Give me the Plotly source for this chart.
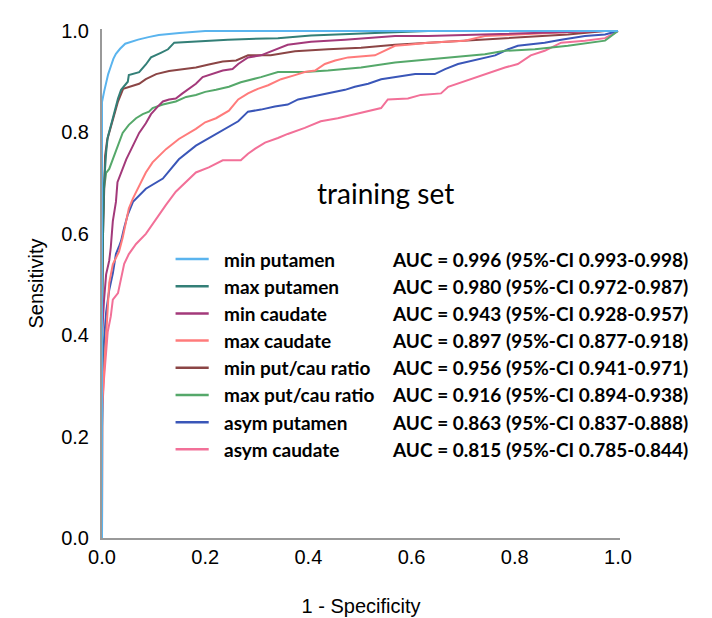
import plotly.graph_objects as go

# ---- data ----
series_names = ["min putamen", "max putamen", "min caudate", "max caudate",
                "min put/cau ratio", "max put/cau ratio", "asym putamen", "asym caudate"]
auc_labels = ["AUC = 0.996 (95%-CI 0.993-0.998)", "AUC = 0.980 (95%-CI 0.972-0.987)",
              "AUC = 0.943 (95%-CI 0.928-0.957)", "AUC = 0.897 (95%-CI 0.877-0.918)",
              "AUC = 0.956 (95%-CI 0.941-0.971)", "AUC = 0.916 (95%-CI 0.894-0.938)",
              "AUC = 0.863 (95%-CI 0.837-0.888)", "AUC = 0.815 (95%-CI 0.785-0.844)"]
colors = ["#5AB4EE", "#337F77", "#A3397A", "#FF7B7B", "#8B4545", "#55A86A", "#3A56B8", "#F27098"]

min_putamen_fpr = [0, 0, 0.004, 0.008, 0.012, 0.017, 0.022, 0.027, 0.035, 0.045, 0.06, 0.07, 0.09, 0.11, 0.15, 0.2, 1]
min_putamen_tpr = [0, 0.86, 0.88, 0.90, 0.915, 0.93, 0.945, 0.955, 0.965, 0.975, 0.98, 0.983, 0.988, 0.992, 0.996, 1.0, 1]

max_putamen_fpr = [0, 0, 0.002, 0.004, 0.008, 0.011, 0.021, 0.031, 0.037, 0.05, 0.052, 0.072, 0.085, 0.095, 0.114,
                   0.128, 0.14, 0.157, 0.2, 0.244, 0.341, 0.405, 0.529, 0.632, 1]
max_putamen_tpr = [0, 0.45, 0.6, 0.7, 0.76, 0.79, 0.828, 0.867, 0.884, 0.9, 0.913, 0.919, 0.934, 0.948, 0.957,
                   0.964, 0.977, 0.978, 0.98, 0.983, 0.986, 0.991, 0.996, 1.0, 1]

min_caudate_fpr = [0, 0, 0.004, 0.008, 0.014, 0.017, 0.021, 0.027, 0.03, 0.04, 0.047, 0.06, 0.072, 0.085, 0.095,
                   0.108, 0.118, 0.13, 0.143, 0.156, 0.169, 0.182, 0.195, 0.215, 0.234, 0.253, 0.264, 0.283, 0.308,
                   0.36, 0.405, 0.471, 0.516, 0.568, 0.632, 0.75, 0.9, 0.97, 1]
min_caudate_tpr = [0, 0.4, 0.47, 0.52, 0.547, 0.573, 0.625, 0.663, 0.702, 0.728, 0.747, 0.774, 0.799, 0.818, 0.836,
                   0.851, 0.861, 0.865, 0.867, 0.877, 0.886, 0.896, 0.909, 0.915, 0.922, 0.925, 0.935, 0.948, 0.952,
                   0.973, 0.979, 0.983, 0.986, 0.99, 0.99, 0.994, 0.998, 1.0, 1]

max_caudate_fpr = [0, 0, 0.004, 0.008, 0.011, 0.014, 0.021, 0.027, 0.033, 0.04, 0.047, 0.052, 0.06, 0.072, 0.085,
                   0.098, 0.124, 0.149, 0.182, 0.2, 0.221, 0.246, 0.264, 0.283, 0.302, 0.322, 0.347, 0.374, 0.393,
                   0.413, 0.432, 0.452, 0.477, 0.529, 0.548, 0.568, 0.593, 0.632, 0.703, 0.742, 0.806, 0.903, 0.95, 1]
max_caudate_tpr = [0, 0.25, 0.33, 0.4, 0.457, 0.503, 0.54, 0.552, 0.565, 0.592, 0.625, 0.65, 0.67, 0.696, 0.721,
                   0.741, 0.767, 0.787, 0.807, 0.82, 0.828, 0.843, 0.865, 0.877, 0.886, 0.893, 0.905, 0.913, 0.919,
                   0.922, 0.935, 0.942, 0.948, 0.952, 0.961, 0.971, 0.973, 0.977, 0.981, 0.99, 0.993, 0.998, 1.0, 1]

min_ratio_fpr = [0, 0, 0.002, 0.004, 0.006, 0.01, 0.014, 0.023, 0.031, 0.041, 0.052, 0.072, 0.085, 0.105, 0.13,
                 0.157, 0.182, 0.207, 0.234, 0.26, 0.283, 0.327, 0.374, 0.438, 0.502, 0.568, 0.632, 0.742, 0.839,
                 0.903, 0.975, 1]
min_ratio_tpr = [0, 0.45, 0.6, 0.7, 0.754, 0.785, 0.8, 0.836, 0.861, 0.886, 0.89, 0.896, 0.905, 0.915, 0.921,
                 0.925, 0.928, 0.934, 0.94, 0.942, 0.952, 0.952, 0.96, 0.964, 0.967, 0.973, 0.977, 0.983, 0.99,
                 0.993, 1.0, 1]

max_ratio_fpr = [0, 0, 0.001, 0.004, 0.008, 0.014, 0.023, 0.033, 0.04, 0.052, 0.066, 0.079, 0.091, 0.098, 0.118,
                 0.143, 0.163, 0.182, 0.2, 0.221, 0.246, 0.269, 0.308, 0.341, 0.393, 0.438, 0.502, 0.568, 0.632,
                 0.676, 0.742, 0.781, 0.839, 0.903, 0.975, 1]
max_ratio_tpr = [0, 0.38, 0.6, 0.689, 0.72, 0.728, 0.754, 0.78, 0.799, 0.815, 0.828, 0.836, 0.841, 0.848, 0.855,
                 0.861, 0.87, 0.874, 0.88, 0.884, 0.89, 0.899, 0.909, 0.919, 0.919, 0.922, 0.928, 0.938, 0.944,
                 0.948, 0.954, 0.961, 0.964, 0.971, 0.981, 1]

asym_putamen_fpr = [0, 0, 0.002, 0.004, 0.008, 0.014, 0.021, 0.027, 0.033, 0.037, 0.043, 0.05, 0.06, 0.085, 0.118,
                    0.149, 0.182, 0.215, 0.246, 0.264, 0.283, 0.308, 0.335, 0.36, 0.38, 0.405, 0.438, 0.471, 0.49,
                    0.516, 0.541, 0.568, 0.607, 0.645, 0.665, 0.69, 0.729, 0.762, 0.787, 0.806, 0.858, 0.89, 0.936,
                    0.975, 1]
asym_putamen_tpr = [0, 0.22, 0.33, 0.39, 0.445, 0.489, 0.522, 0.56, 0.575, 0.586, 0.612, 0.638, 0.663, 0.689, 0.709,
                    0.747, 0.774, 0.793, 0.81, 0.822, 0.841, 0.845, 0.851, 0.855, 0.865, 0.87, 0.877, 0.884, 0.89,
                    0.896, 0.905, 0.909, 0.915, 0.915, 0.925, 0.935, 0.944, 0.952, 0.964, 0.971, 0.977, 0.983, 0.99,
                    0.993, 1]

asym_caudate_fpr = [0, 0, 0.001, 0.004, 0.008, 0.011, 0.017, 0.021, 0.031, 0.037, 0.043, 0.052, 0.066, 0.085, 0.098,
                    0.11, 0.124, 0.143, 0.163, 0.182, 0.207, 0.234, 0.269, 0.283, 0.297, 0.316, 0.341, 0.36, 0.393,
                    0.424, 0.457, 0.49, 0.516, 0.541, 0.554, 0.593, 0.618, 0.657, 0.671, 0.709, 0.742, 0.781, 0.806,
                    0.831, 0.858, 0.87, 0.89, 0.936, 0.975, 1]
asym_caudate_tpr = [0, 0.2, 0.263, 0.315, 0.367, 0.406, 0.437, 0.47, 0.483, 0.515, 0.541, 0.56, 0.58, 0.6, 0.619,
                    0.638, 0.657, 0.683, 0.702, 0.721, 0.731, 0.745, 0.745, 0.758, 0.768, 0.78, 0.789, 0.797, 0.809,
                    0.822, 0.828, 0.836, 0.841, 0.848, 0.865, 0.867, 0.874, 0.877, 0.89, 0.903, 0.915, 0.928, 0.935,
                    0.952, 0.961, 0.967, 0.977, 0.981, 0.986, 1]

curves = [
    (min_putamen_fpr, min_putamen_tpr),
    (max_putamen_fpr, max_putamen_tpr),
    (min_caudate_fpr, min_caudate_tpr),
    (max_caudate_fpr, max_caudate_tpr),
    (min_ratio_fpr, min_ratio_tpr),
    (max_ratio_fpr, max_ratio_tpr),
    (asym_putamen_fpr, asym_putamen_tpr),
    (asym_caudate_fpr, asym_caudate_tpr),
]

x_ticks = [0.0, 0.2, 0.4, 0.6, 0.8, 1.0]
y_ticks = [0.0, 0.2, 0.4, 0.6, 0.8, 1.0]

# ---- figure ----
fig = go.Figure()
# draw in reverse so first series ends on top
for i in reversed(range(len(curves))):
    fx, ty = curves[i]
    fig.add_trace(go.Scatter(x=fx, y=ty, mode="lines", name=series_names[i],
                             line=dict(color=colors[i], width=2), showlegend=False))

# custom legend block
row0 = 0.548
row_step = 0.0534
for i, name in enumerate(series_names):
    yy = row0 - i * row_step
    fig.add_shape(type="line", xref="paper", yref="paper", x0=0.142, x1=0.206, y0=yy, y1=yy,
                  line=dict(color=colors[i], width=2.5))
    fig.add_annotation(xref="paper", yref="paper", x=0.231, y=yy, text="<b>%s</b>" % name,
                       showarrow=False, xanchor="left", yanchor="middle",
                       font=dict(family="Lato", size=19, color="#000000"))
    fig.add_annotation(xref="paper", yref="paper", x=0.556, y=yy, text="<b>%s</b>" % auc_labels[i],
                       showarrow=False, xanchor="left", yanchor="middle",
                       font=dict(family="Lato", size=19, color="#000000"))

fig.add_annotation(xref="paper", yref="paper", x=0.548, y=0.678, text="training set",
                   showarrow=False, xanchor="center", yanchor="middle",
                   font=dict(family="Lato", size=28, color="#000000"))

axis_font = dict(family="Liberation Sans", size=20, color="#000000")
fig.update_xaxes(range=[0, 1.004], tickvals=x_ticks, ticktext=["%.1f" % v for v in x_ticks],
                 showgrid=False, zeroline=False, showline=True, linecolor="#999999", linewidth=2,
                 ticks="", tickfont=axis_font, ticklabelstandoff=0, layer="below traces",
                 title=dict(text="1 - Specificity", font=axis_font, standoff=32))
fig.update_yaxes(range=[0, 1.004], tickvals=y_ticks, ticktext=["%.1f" % v for v in y_ticks],
                 showgrid=False, zeroline=False, showline=True, linecolor="#999999", linewidth=2,
                 ticks="", tickfont=axis_font, ticklabelstandoff=7, layer="below traces",
                 title=dict(text="Sensitivity", font=dict(family="Liberation Sans", size=20, color="#000000"),
                            standoff=12))

fig.update_layout(width=712, height=618, plot_bgcolor="white", paper_bgcolor="white",
                  margin=dict(l=94, r=100, t=14, b=85), showlegend=False)

fig.write_html("out.html")
